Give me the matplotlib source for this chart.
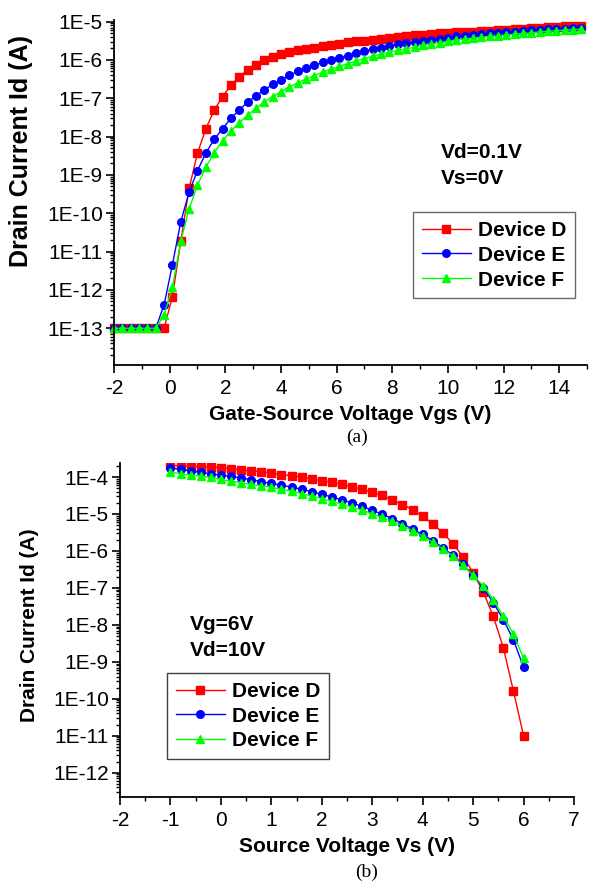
import numpy as np
import matplotlib
matplotlib.use("Agg")
import matplotlib.pyplot as plt
from matplotlib.ticker import LogLocator, FuncFormatter, MultipleLocator, NullFormatter

plt.rcParams['font.family'] = ['Liberation Sans', 'DejaVu Sans']
plt.rcParams['axes.unicode_minus'] = False

# ---------------- (a) transfer curves ----------------
vgs = [-2.0, -1.7, -1.4, -1.1, -0.8, -0.5, -0.2, 0.1, 0.4, 0.7, 1.0, 1.3, 1.6, 1.9,
       2.2, 2.5, 2.8, 3.1, 3.4, 3.7, 4.0, 4.3, 4.6, 4.9, 5.2, 5.5, 5.8, 6.1, 6.4,
       6.7, 7.0, 7.3, 7.6, 7.9, 8.2, 8.5, 8.8, 9.1, 9.4, 9.7, 10.0, 10.3, 10.6,
       10.9, 11.2, 11.5, 11.8, 12.1, 12.4, 12.7, 13.0, 13.3, 13.6, 13.9, 14.2,
       14.5, 14.8]
id_a_D = [1e-13, 1e-13, 1e-13, 1e-13, 1e-13, 1e-13, 1e-13, 6.7e-13, 1.9e-11, 4.5e-10,
          3.7e-9, 1.6e-8, 4.9e-8, 1.1e-7, 2.2e-7, 3.6e-7, 5.5e-7, 7.6e-7, 9.8e-7,
          1.2e-6, 1.4e-6, 1.6e-6, 1.8e-6, 1.95e-6, 2.1e-6, 2.3e-6, 2.45e-6, 2.6e-6,
          2.9e-6, 3.05e-6, 3.2e-6, 3.4e-6, 3.6e-6, 3.8e-6, 4.0e-6, 4.2e-6, 4.4e-6,
          4.6e-6, 4.75e-6, 4.9e-6, 5.05e-6, 5.2e-6, 5.35e-6, 5.5e-6, 5.65e-6, 5.8e-6,
          5.95e-6, 6.1e-6, 6.3e-6, 6.5e-6, 6.7e-6, 6.9e-6, 7.1e-6, 7.3e-6, 7.5e-6,
          7.7e-6, 7.9e-6]
id_a_E = [1e-13, 1e-13, 1e-13, 1e-13, 1e-13, 1e-13, 4.1e-13, 4.6e-12, 6e-11, 3.6e-10,
          1.3e-9, 3.7e-9, 8.5e-9, 1.6e-8, 3e-8, 4.9e-8, 8e-8, 1.15e-7, 1.65e-7, 2.3e-7,
          3.0e-7, 4.0e-7, 5.0e-7, 6.1e-7, 7.3e-7, 8.6e-7, 1.0e-6, 1.15e-6, 1.3e-6,
          1.5e-6, 1.7e-6, 1.9e-6, 2.1e-6, 2.35e-6, 2.55e-6, 2.75e-6, 2.95e-6, 3.2e-6,
          3.4e-6, 3.6e-6, 3.85e-6, 4.1e-6, 4.3e-6, 4.5e-6, 4.7e-6, 4.9e-6, 5.1e-6,
          5.3e-6, 5.5e-6, 5.7e-6, 5.9e-6, 6.05e-6, 6.25e-6, 6.4e-6, 6.6e-6, 6.75e-6,
          6.9e-6]
id_a_F = [1e-13, 1e-13, 1e-13, 1e-13, 1e-13, 1e-13, 2.2e-13, 1.2e-12, 1.9e-11, 1.3e-10,
          5.4e-10, 1.6e-9, 3.8e-9, 7.8e-9, 1.4e-8, 2.3e-8, 3.6e-8, 5.5e-8, 8e-8, 1.1e-7,
          1.5e-7, 2.0e-7, 2.5e-7, 3.2e-7, 3.9e-7, 4.8e-7, 5.7e-7, 6.8e-7, 8.0e-7,
          9.4e-7, 1.08e-6, 1.25e-6, 1.42e-6, 1.6e-6, 1.78e-6, 1.96e-6, 2.15e-6, 2.4e-6,
          2.6e-6, 2.82e-6, 3.05e-6, 3.3e-6, 3.5e-6, 3.7e-6, 3.9e-6, 4.1e-6, 4.3e-6,
          4.5e-6, 4.7e-6, 4.9e-6, 5.1e-6, 5.4e-6, 5.6e-6, 5.8e-6, 6.0e-6, 6.15e-6,
          6.3e-6]

# ---------------- (b) source-voltage curves ----------------
vs = [-1.0, -0.8, -0.6, -0.4, -0.2, 0.0, 0.2, 0.4, 0.6, 0.8, 1.0, 1.2, 1.4, 1.6, 1.8,
      2.0, 2.2, 2.4, 2.6, 2.8, 3.0, 3.2, 3.4, 3.6, 3.8, 4.0, 4.2, 4.4, 4.6, 4.8, 5.0,
      5.2, 5.4, 5.6, 5.8, 6.0]
id_b_D = [2.07e-4, 2.0e-4, 1.94e-4, 1.9e-4, 1.86e-4, 1.79e-4, 1.68e-4, 1.58e-4, 1.48e-4,
          1.39e-4, 1.28e-4, 1.16e-4, 1.09e-4, 1.0e-4, 8.8e-5, 7.96e-5, 7.2e-5, 6.3e-5,
          5.5e-5, 4.6e-5, 3.85e-5, 3.2e-5, 2.4e-5, 1.8e-5, 1.31e-5, 8.6e-6, 5.5e-6,
          3.1e-6, 1.57e-6, 6.9e-7, 2.6e-7, 7.8e-8, 1.7e-8, 2.4e-9, 1.6e-10, 1.0e-11]
id_b_E = [1.79e-4, 1.61e-4, 1.45e-4, 1.34e-4, 1.23e-4, 1.13e-4, 1.04e-4, 9.4e-5, 8.5e-5,
          7.5e-5, 6.7e-5, 6.0e-5, 5.3e-5, 4.7e-5, 4.0e-5, 3.4e-5, 2.9e-5, 2.4e-5, 2.0e-5,
          1.6e-5, 1.26e-5, 9.8e-6, 7.5e-6, 5.5e-6, 3.9e-6, 2.8e-6, 1.9e-6, 1.23e-6,
          7.6e-7, 4.4e-7, 2.2e-7, 1.02e-7, 4.0e-8, 1.38e-8, 3.9e-9, 7.2e-10]
id_b_F = [1.34e-4, 1.23e-4, 1.13e-4, 1.06e-4, 9.8e-5, 8.6e-5, 7.8e-5, 7.0e-5, 6.3e-5,
          5.8e-5, 5.3e-5, 4.6e-5, 4.2e-5, 3.55e-5, 3.06e-5, 2.6e-5, 2.2e-5, 1.86e-5,
          1.55e-5, 1.26e-5, 1.02e-5, 8.1e-6, 6.3e-6, 4.8e-6, 3.5e-6, 2.5e-6, 1.7e-6,
          1.13e-6, 7.2e-7, 4.1e-7, 2.2e-7, 1.13e-7, 4.8e-8, 1.7e-8, 5.6e-9, 1.24e-9]

labels = ['Device D', 'Device E', 'Device F']
colors = ['#ff0000', '#0000ff', '#00ff00']
markers = ['s', 'o', '^']

fig = plt.figure(figsize=(5.92, 8.90), dpi=100)

def style_axes(ax):
    ax.set_yscale('log')
    for s in ['top', 'right']:
        ax.spines[s].set_visible(False)
    for s in ['left', 'bottom']:
        ax.spines[s].set_linewidth(1.3)
    ax.yaxis.set_major_locator(LogLocator(base=10, numticks=30))
    ax.yaxis.set_minor_locator(LogLocator(base=10, subs=np.arange(2, 10), numticks=30))
    ax.yaxis.set_minor_formatter(NullFormatter())
    ax.yaxis.set_major_formatter(FuncFormatter(lambda v, p: '1E%d' % int(round(np.log10(v)))))
    ax.tick_params(which='major', direction='out', length=6, width=1.2, labelsize=15, pad=2)
    ax.tick_params(axis='x', which='major', pad=4)
    ax.tick_params(which='minor', direction='out', length=3, width=1.0)

leg_kw = dict(prop={'weight': 'bold', 'size': 15}, frameon=True, fancybox=False,
              handlelength=2.36, handletextpad=0.32, borderpad=0.42,
              labelspacing=0.28, borderaxespad=0)

# (a)
ax1 = fig.add_axes([0.1926, 0.5899, 0.799, 0.3876])
for y, lab, c, m in zip([id_a_D, id_a_E, id_a_F], labels, colors, markers):
    ax1.plot(vgs, y, color=c, marker=m, markersize=5.5, linewidth=1.0, label=lab,
             clip_on=False)
style_axes(ax1)
ax1.set_xlim(-2, 15)
ax1.set_ylim(1.1e-14, 1.1e-5)
ax1.xaxis.set_major_locator(MultipleLocator(2))
ax1.xaxis.set_minor_locator(MultipleLocator(1))
ax1.set_xlabel('Gate-Source Voltage Vgs (V)', fontsize=15, fontweight='bold', labelpad=5)
ax1.set_ylabel('Drain Current Id (A)', fontsize=18, fontweight='bold')
ax1.yaxis.set_label_coords(-0.172, 0.62)
ax1.text(9.75, 3.9e-9, 'Vd=0.1V', fontsize=15, fontweight='bold', va='center')
ax1.text(9.75, 8.1e-10, 'Vs=0V', fontsize=15, fontweight='bold', va='center')
leg1 = ax1.legend(loc='upper left', bbox_to_anchor=(0.632, 0.443),
                  edgecolor='#444444', **leg_kw)
leg1.get_frame().set_linewidth(1.0)
fig.text(357 / 592, 1 - 437 / 890, '(a)', fontsize=14, family='Liberation Serif',
         ha='center', va='center')

# (b)
ax2 = fig.add_axes([0.2027, 0.1045, 0.7669, 0.3753])
for y, lab, c, m in zip([id_b_D, id_b_E, id_b_F], labels, colors, markers):
    ax2.plot(vs, y, color=c, marker=m, markersize=5.5, linewidth=1.0, label=lab)
style_axes(ax2)
ax2.set_xlim(-2, 7)
ax2.set_ylim(2.2e-13, 2.4e-4)
ax2.xaxis.set_major_locator(MultipleLocator(1))
ax2.xaxis.set_minor_locator(MultipleLocator(0.5))
ax2.set_xlabel('Source Voltage Vs (V)', fontsize=15, fontweight='bold', labelpad=5)
ax2.set_ylabel('Drain Current Id (A)', fontsize=15, fontweight='bold')
ax2.yaxis.set_label_coords(-0.178, 0.515)
ax2.text(-0.61, 1.0e-8, 'Vg=6V', fontsize=15, fontweight='bold', va='center')
ax2.text(-0.61, 2.0e-9, 'Vd=10V', fontsize=15, fontweight='bold', va='center')
leg2 = ax2.legend(loc='upper left', bbox_to_anchor=(0.1035, 0.371),
                  edgecolor='#111111', **leg_kw)
leg2.get_frame().set_linewidth(1.0)
fig.text(367 / 592, 1 - 872 / 890, '(b)', fontsize=14, family='Liberation Serif',
         ha='center', va='center')

fig.savefig('out.png', dpi=100)
